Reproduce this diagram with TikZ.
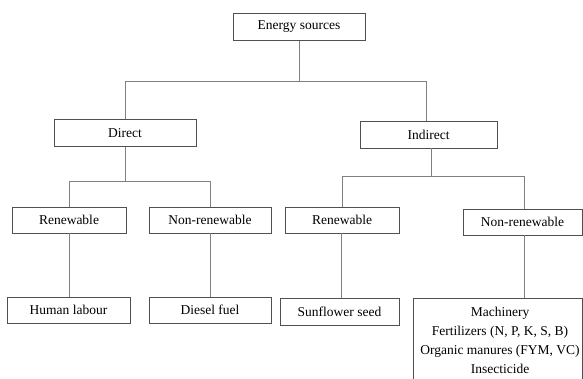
\documentclass[tikz,border=0pt]{standalone}
\usepackage{fontspec}
\setmainfont{Liberation Serif}
\begin{document}
\begin{tikzpicture}[x=1pt,y=-1pt,
  box/.style={draw=boxgray, line width=0.9pt, minimum height=27pt, inner sep=0pt,
    font=\fontsize{13.5}{19}\selectfont, text=black},
  conn/.style={draw=linegray, line width=1pt}]
\definecolor{boxgray}{HTML}{505050}
\definecolor{linegray}{HTML}{808080}
\useasboundingbox (0,0) rectangle (583,378);
% boxes
\node[box, minimum width=132pt] (E) at (299,27) {Energy sources};
\node[box, minimum width=142pt] (D) at (125,133) {Direct};
\node[box, minimum width=137pt] (I) at (428.5,134.5) {Indirect};
\node[box, minimum width=114pt, minimum height=26pt] (RL) at (69,220) {Renewable};
\node[box, minimum width=122pt, minimum height=26pt] (NL) at (210,220) {Non-renewable};
\node[box, minimum width=114pt, minimum height=26pt] (RR) at (342,220) {Renewable};
\node[box, minimum width=119pt, minimum height=26pt] (NR) at (522.5,222) {Non-renewable};
\node[box, minimum width=123pt, minimum height=26pt] (HL) at (68.5,310) {Human labour};
\node[box, minimum width=122pt, minimum height=26pt] (DF) at (210,310) {Diesel fuel};
\node[box, minimum width=119pt, minimum height=27pt] (SS) at (339.5,311.5) {Sunflower seed};
% open box with list
\node[font=\fontsize{13.5}{19}\selectfont, align=center, inner sep=0pt, anchor=north] (L) at (500,306.5)
  {Machinery\\Fertilizers (N, P, K, S, B)\\Organic manures (FYM, VC)\\Insecticide};
\coordinate (Ltop) at (524,298);
\draw[draw=boxgray, line width=0.9pt] (413,379) -- (413,298) -- (582.5,298) -- (582.5,379);
% connectors
\coordinate (b1) at (299,81);
\coordinate (b2) at (125,181);
\coordinate (b3) at (431,176);
\coordinate (ssTop) at (341,298);
\draw[conn] (E.south) -- (b1);
\draw[conn] (b1) -| (D.north);
\draw[conn] (b1) -| ([xshift=-2.5pt]I.north);
\draw[conn] (D.south) -- (b2);
\draw[conn] (b2) -| (RL.north);
\draw[conn] (b2) -| (NL.north);
\draw[conn] ([xshift=2.5pt]I.south) -- (b3);
\draw[conn] (b3) -| (RR.north);
\draw[conn] (b3) -| ([xshift=1.5pt]NR.north);
\draw[conn] (RL.south) -- (HL.north -| RL.south);
\draw[conn] (NL.south) -- (DF.north);
\draw[conn] (RR.south -| ssTop) -- (ssTop);
\draw[conn] ([xshift=1.5pt]NR.south) -- (Ltop);
\end{tikzpicture}
\end{document}
